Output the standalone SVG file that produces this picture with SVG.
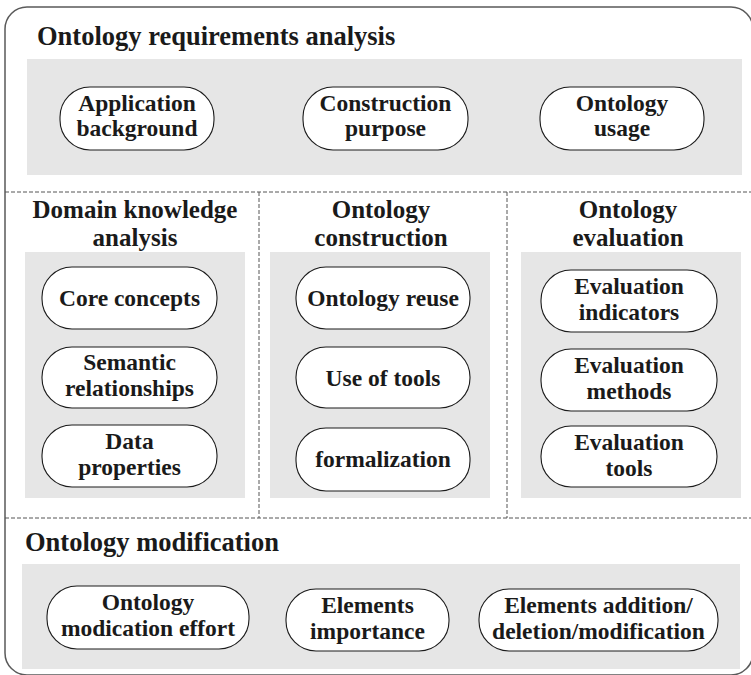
<svg xmlns="http://www.w3.org/2000/svg" width="751" height="675" viewBox="0 0 751 675">
  <style>
    .frame { fill: #ffffff; stroke: #5a5a5a; stroke-width: 1.5; }
    .panel { fill: #e6e6e6; stroke: none; }
    .pill { fill: #ffffff; stroke: #1a1a1a; stroke-width: 1.1; }
    .divider { stroke: #555555; stroke-width: 1; stroke-dasharray: 4 2; fill: none; }
    .title { font-family: "Liberation Serif", "Times New Roman", serif; font-weight: bold; font-size: 26.5px; fill: #1a1a1a; }
    .label { font-family: "Liberation Serif", "Times New Roman", serif; font-weight: bold; font-size: 23.5px; fill: #1a1a1a; text-anchor: middle; }
    .ctitle { text-anchor: middle; font-size: 25px; }
  </style>

  <!-- outer frame -->
  <rect class="frame" x="5" y="7" width="748" height="668" rx="22" ry="22"/>

  <!-- section dividers -->
  <g id="dividers">
    <line class="divider" x1="5" y1="192" x2="751" y2="192"/>
    <line class="divider" x1="5" y1="518" x2="751" y2="518"/>
    <line class="divider" x1="259" y1="192" x2="259" y2="518"/>
    <line class="divider" x1="507" y1="192" x2="507" y2="518"/>
  </g>

  <!-- stage 1: requirements analysis -->
  <g id="requirements-analysis">
    <text class="title" x="37" y="45">Ontology requirements analysis</text>
    <rect class="panel" x="27" y="59" width="715" height="116"/>
    <g id="application-background">
      <rect class="pill" x="60" y="87" width="154" height="63" rx="30"/>
      <text class="label" x="137" y="111">Application</text>
      <text class="label" x="137" y="136">background</text>
    </g>
    <g id="construction-purpose">
      <rect class="pill" x="303" y="87" width="165" height="63" rx="30"/>
      <text class="label" x="385.5" y="111">Construction</text>
      <text class="label" x="385.5" y="136">purpose</text>
    </g>
    <g id="ontology-usage">
      <rect class="pill" x="540" y="87" width="164" height="63" rx="30"/>
      <text class="label" x="622" y="111">Ontology</text>
      <text class="label" x="622" y="136">usage</text>
    </g>
  </g>

  <!-- stage 2a: domain knowledge analysis -->
  <g id="domain-knowledge-analysis">
    <text class="title ctitle" x="135" y="218">Domain knowledge</text>
    <text class="title ctitle" x="135" y="246">analysis</text>
    <rect class="panel" x="25" y="252" width="220" height="246"/>
    <g id="core-concepts">
      <rect class="pill" x="42" y="267" width="175" height="62" rx="30"/>
      <text class="label" x="129.5" y="306">Core concepts</text>
    </g>
    <g id="semantic-relationships">
      <rect class="pill" x="42" y="347" width="175" height="61" rx="30"/>
      <text class="label" x="129.5" y="370">Semantic</text>
      <text class="label" x="129.5" y="396">relationships</text>
    </g>
    <g id="data-properties">
      <rect class="pill" x="42" y="425" width="175" height="62" rx="30"/>
      <text class="label" x="129.5" y="449">Data</text>
      <text class="label" x="129.5" y="475">properties</text>
    </g>
  </g>

  <!-- stage 2b: ontology construction -->
  <g id="ontology-construction">
    <text class="title ctitle" x="381" y="218">Ontology</text>
    <text class="title ctitle" x="381" y="246">construction</text>
    <rect class="panel" x="270" y="252" width="220" height="246"/>
    <g id="ontology-reuse">
      <rect class="pill" x="296" y="267" width="174" height="62" rx="30"/>
      <text class="label" x="383" y="306">Ontology reuse</text>
    </g>
    <g id="use-of-tools">
      <rect class="pill" x="296" y="347" width="174" height="61" rx="30"/>
      <text class="label" x="383" y="386">Use of tools</text>
    </g>
    <g id="formalization">
      <rect class="pill" x="296" y="428" width="174" height="63" rx="30"/>
      <text class="label" x="383" y="467">formalization</text>
    </g>
  </g>

  <!-- stage 2c: ontology evaluation -->
  <g id="ontology-evaluation">
    <text class="title ctitle" x="628" y="218">Ontology</text>
    <text class="title ctitle" x="628" y="246">evaluation</text>
    <rect class="panel" x="521" y="252" width="220" height="246"/>
    <g id="evaluation-indicators">
      <rect class="pill" x="541" y="270" width="176" height="62" rx="30"/>
      <text class="label" x="629" y="294">Evaluation</text>
      <text class="label" x="629" y="320">indicators</text>
    </g>
    <g id="evaluation-methods">
      <rect class="pill" x="541" y="349" width="176" height="62" rx="30"/>
      <text class="label" x="629" y="373">Evaluation</text>
      <text class="label" x="629" y="399">methods</text>
    </g>
    <g id="evaluation-tools">
      <rect class="pill" x="541" y="426" width="176" height="61" rx="30"/>
      <text class="label" x="629" y="450">Evaluation</text>
      <text class="label" x="629" y="476">tools</text>
    </g>
  </g>

  <!-- stage 3: ontology modification -->
  <g id="ontology-modification">
    <text class="title" x="25" y="551">Ontology modification</text>
    <rect class="panel" x="22" y="564" width="718" height="105"/>
    <g id="modification-effort">
      <rect class="pill" x="47" y="586" width="202" height="63" rx="30"/>
      <text class="label" x="148" y="610">Ontology</text>
      <text class="label" x="148" y="636">modication effort</text>
    </g>
    <g id="elements-importance">
      <rect class="pill" x="286" y="589" width="163" height="62" rx="30"/>
      <text class="label" x="367.5" y="613">Elements</text>
      <text class="label" x="367.5" y="639">importance</text>
    </g>
    <g id="elements-change">
      <rect class="pill" x="479" y="589" width="239" height="62" rx="30"/>
      <text class="label" x="598.5" y="613">Elements addition/</text>
      <text class="label" x="598.5" y="639">deletion/modification</text>
    </g>
  </g>
</svg>
